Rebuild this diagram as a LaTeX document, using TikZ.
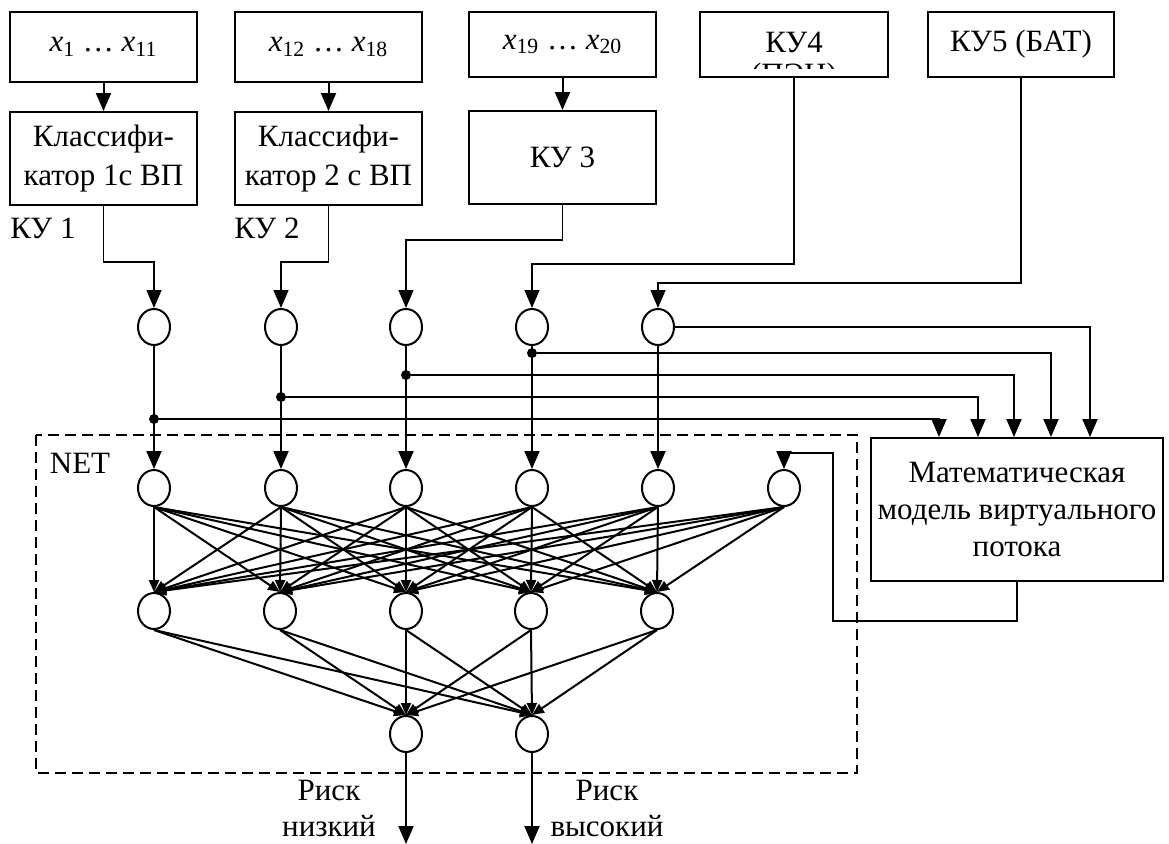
\documentclass[tikz,border=0pt]{standalone}
\usepackage{fontspec}
\setmainfont{Liberation Serif}
\usetikzlibrary{arrows.meta, calc, positioning, shapes.geometric}
\newcommand{\xs}[1]{\textit{x}\textsubscript{#1}}
\tikzset{
  block/.style={draw, line width=1pt, inner sep=0pt, align=center},
  neuron/.style={draw, ellipse, line width=1pt, minimum width=16pt,
                 minimum height=18pt, inner sep=0pt},
  feed/.style={-{Triangle[length=9pt,width=7.5pt]}, line width=1pt},
  wire/.style={line width=0.7pt},
  synapse/.style={-{Triangle[length=6pt,width=5pt]}, line width=1pt},
  junction/.style={circle, fill, inner sep=0pt, minimum size=5pt},
  netframe/.style={line width=0.9pt, dash pattern=on 5.5pt off 3pt}
}

\begin{document}
\begin{tikzpicture}[x=0.5pt, y=-0.5pt, font=\fontsize{15.5}{19.5}\selectfont]
  \useasboundingbox (0,0) rectangle (1169,843);
  %---- input groups and classifiers ------------------------------------------
  \node[block, minimum width=93.5pt, minimum height=35pt] (in1) at (103.5,47)
    {\xs{1} … \xs{11}};
  \node[block, minimum width=93.5pt, minimum height=35pt] (in2) at (328.5,47)
    {\xs{12} … \xs{18}};
  \node[block, minimum width=93.5pt, minimum height=32.5pt] (in3) at (562.5,44.5)
    {\xs{19} … \xs{20}};
  \node[block, minimum width=94pt, minimum height=32.5pt] (ku4) at (794,44.5) {};
  \node (ku4txt) at (794,42) {КУ4};
  \begin{scope}
    \clip (700,12) rectangle (888,68);
    \node[anchor=north, inner sep=0pt] (ku4sub) at (794,63) {(ПЭН)};
  \end{scope}
  \node[block, minimum width=93pt, minimum height=32.5pt] (ku5) at (1021,44.5)
    {КУ5 (БАТ)};
  \node[block, minimum width=93.5pt, minimum height=46.5pt] (cl1) at (103.5,158.5)
    {Классифи-\\катор 1с ВП};
  \node[block, minimum width=93.5pt, minimum height=46.5pt] (cl2) at (328.5,158.5)
    {Классифи-\\катор 2 с ВП};
  \node[block, minimum width=93.5pt, minimum height=46.5pt] (ku3) at (562.5,157.5)
    {КУ 3};
  \node (lku1) at (43,228) {КУ 1};
  \node (lku2) at (267,228) {КУ 2};
  \foreach \a/\b in {in1/cl1, in2/cl2, in3/ku3}
    \draw[feed] (\a) -- (\b);
  %---- math model -------------------------------------------------------------
  \node[block, minimum width=146pt, minimum height=71.5pt, font=\fontsize{15.5}{18.5}\selectfont]
    (mm) at (1017,509.5) {Математическая\\модель виртуального\\потока};
  %---- neurons ----------------------------------------------------------------
  \foreach \i/\x in {1/154, 2/281, 3/406, 4/532, 5/658}
    \node[neuron] (s\i) at (\x,327) {};
  \foreach \i/\x in {1/154, 2/281, 3/406, 4/532, 5/658, 6/784}
    \node[neuron] (n\i) at (\x,488) {};
  \foreach \i/\x in {1/154, 2/280, 3/406, 4/531, 5/657}
    \node[neuron] (h\i) at (\x,611) {};
  \node[neuron] (o1) at (406,734) {};
  \node[neuron] (o2) at (532,734) {};
  \draw[netframe] (36,435) rectangle (857,773);
  \node (netlbl) at (80,463) {NET};
  %---- inputs to the first neurons -------------------------------------------
  \draw[feed, wire] (cl1.south) -- ++(0,56) -| (s1.north);
  \draw[feed, wire] (cl2.south) -- ++(0,56) -| (s2.north);
  \draw[feed, wire] (ku3.south) -- ++(0,35) -| (s3.north);
  \draw[feed, wire] (ku4.south) -- ++(0,186) -| (s4.north);
  \draw[feed, wire] (ku5.south) -- ++(0,205) -| (s5.north);
  \foreach \i in {1,...,5}
    \draw[feed] (s\i) -- (n\i);
  %---- taps to the math model -------------------------------------------------
  \node[junction] (j1) at ($(s1)+(0,92)$) {};
  \node[junction] (j2) at ($(s2)+(0,70)$) {};
  \node[junction] (j3) at ($(s3)+(0,48)$) {};
  \node[junction] (j4) at ($(s4)+(0,26)$) {};
  \foreach \src/\dx in {j1/69, j2/108, j3/144, j4/181, s5.east/220}
    \draw[feed] (\src) -| ($(mm.north west)+(\dx,0)$);
  \draw[feed] (mm.south) -- ++(0,39) -- ++(-184,0) -- ++(0,-168) -| (n6.north);
  %---- network links ----------------------------------------------------------
  \foreach \i in {1,...,6}
    \foreach \j in {1,...,5}
      \draw[synapse] (n\i.south) -- (h\j.north);
  \foreach \j in {1,...,5}
    \foreach \k in {1,2}
      \draw[synapse] (h\j.south) -- (o\k.north);
  %---- outputs ----------------------------------------------------------------
  \draw[feed] (o1.south) -- ++(0,91);
  \draw[feed] (o2.south) -- ++(0,91);
  \node[align=center, font=\fontsize{15.5}{18}\selectfont] (risk1) at (329,808)
    {Риск\\низкий};
  \node[align=center, font=\fontsize{15.5}{18}\selectfont] (risk2) at (607,808)
    {Риск\\высокий};
\end{tikzpicture}
\end{document}
